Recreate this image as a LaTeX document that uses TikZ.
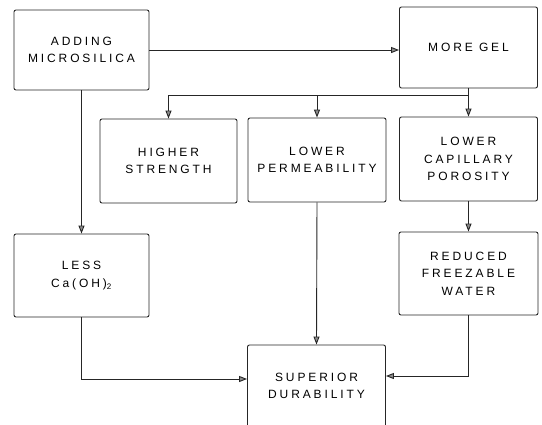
\documentclass[tikz,border=0pt]{standalone}
\usepackage{fontspec}
\setmainfont{Liberation Sans}[LetterSpace=24]
\usetikzlibrary{arrows.meta}
\begin{document}
\begin{tikzpicture}[x=1pt,y=-1pt,
  box/.style={draw=black!85, line width=0.9pt, rounded corners=2pt, inner sep=0pt,
    align=center, font={\fontsize{12}{17.5}\selectfont}},
  link/.style={draw=black!85, line width=0.9pt},
  arr/.style={link, -{Triangle[length=8pt,width=6pt,fill=black!45]}}]
\clip (0,0) rectangle (542,424);
\fill[white] (0,0) rectangle (542,424);
\node[box, minimum width=135pt, minimum height=80pt] (add) at (81.5,50) {ADDING\\MICROSILICA};
\node[box, minimum width=138pt, minimum height=81pt] (gel) at (468.5,47.5) {MORE GEL};
\node[box, minimum width=137pt, minimum height=84pt] (str) at (168.5,161) {HIGHER\\STRENGTH};
\node[box, minimum width=138pt, minimum height=84pt] (perm) at (317,160) {LOWER\\PERMEABILITY};
\node[box, minimum width=138pt, minimum height=84pt] (cap) at (468.5,159) {LOWER\\CAPILLARY\\POROSITY};
\node[box, minimum width=135pt, minimum height=83pt] (less) at (81.5,275.5) {LESS\\Ca(OH)\textsubscript{2}};
\node[box, minimum width=139pt, minimum height=83pt] (red) at (468.5,273.5) {REDUCED\\FREEZABLE\\WATER};
\node[box, minimum width=138pt, minimum height=82pt] (sup) at (316.5,386) {SUPERIOR\\DURABILITY};
\coordinate (br) at (468.5,95);
\draw[arr] (add.east) -- (add.east -| gel.west);
\draw[arr] (add.south) -- (less.north);
\draw[arr] (gel.south) -- (cap.north);
\draw[arr] (br) -| (str.north);
\draw[arr] (perm.north |- br) -- (perm.north);
\draw[arr] (cap.south) -- (red.north);
\draw[arr] (perm.south) -- (sup.north);
\draw[arr] (less.south) |- ([yshift=7pt]sup.west);
\draw[arr] (red.south) |- ([yshift=10pt]sup.east);
\end{tikzpicture}
\end{document}
